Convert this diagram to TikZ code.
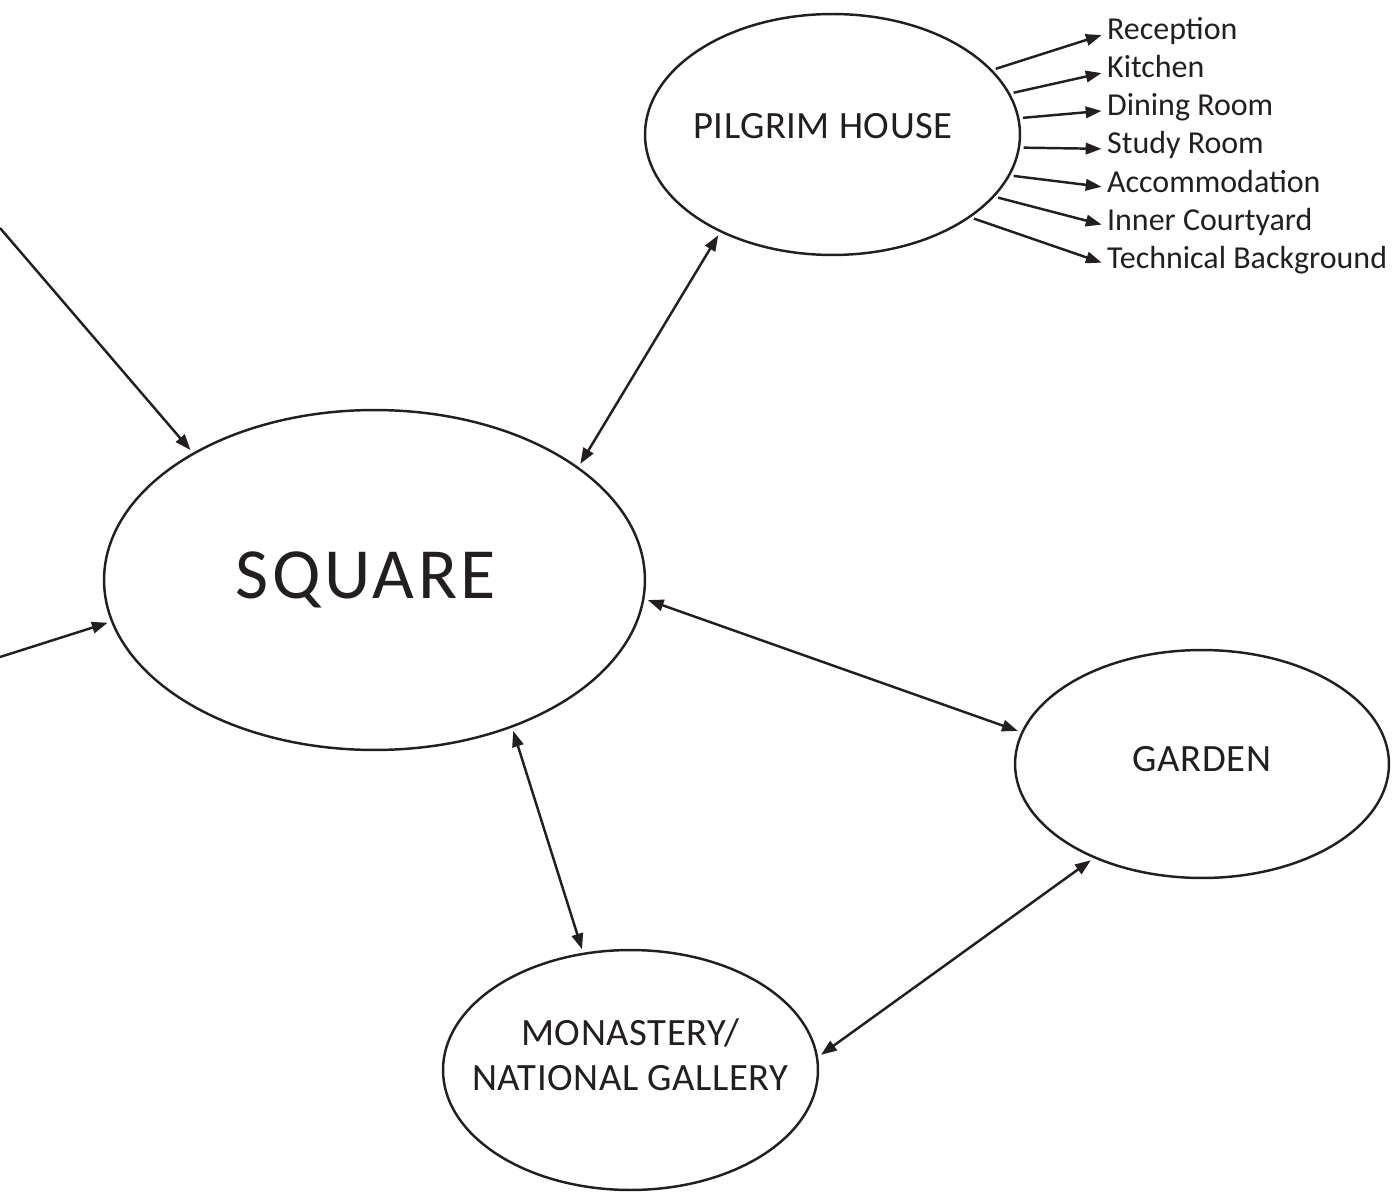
\documentclass[tikz,border=0pt]{standalone}
\usepackage{fontspec}
\setmainfont{Carlito}
\usepackage{tikz}
\usetikzlibrary{arrows.meta,positioning,shapes.geometric}
\definecolor{ink}{HTML}{231F20}

\begin{document}
\begin{tikzpicture}[
  x=0.02cm, y=-0.02cm,
  >={Triangle[length=9pt,width=6.5pt]},
  every node/.style={text=ink},
  place/.style={draw=ink, ellipse, line width=1.4pt, inner sep=0pt},
  placetext/.style={align=center, inner sep=0pt, font=\fontsize{22}{25.5}\selectfont\addfontfeature{LetterSpace=1.5}},
  room/.style={anchor=west, inner sep=1pt, text height=1.6ex, text depth=.4ex, font=\fontsize{18.2}{21}\selectfont},
  link/.style={draw=ink, line width=1.4pt, shorten <=2pt, shorten >=2pt}
]
\useasboundingbox (0,0) rectangle (1399,1192);
\node[place, minimum width=10.82cm, minimum height=6.8cm,
  label={[placetext, xshift=-0.17cm, font=\fontsize{41}{48}\selectfont\addfontfeature{LetterSpace=5}]center:SQUARE}] (sq) at (374.5,580) {};
\node[place, minimum width=7.5cm, minimum height=4.82cm,
  label={[placetext, xshift=-0.19cm, yshift=0.17cm]center:PILGRIM HOUSE}] (ph) at (832.5,134.5) {};
\node[place, minimum width=7.48cm, minimum height=4.56cm,
  label={[placetext, yshift=0.09cm]center:GARDEN}] (gd) at (1202,764) {};
\node[place, minimum width=7.5cm, minimum height=4.8cm,
  label={[placetext, yshift=0.3cm]center:{MONASTERY/\\NATIONAL GALLERY}}] (ms) at (630.5,1070) {};
\coordinate (inA) at (0,228);
\coordinate (inB) at (0,657);
\draw[link,->, shorten <=0pt] (inA) -- (sq.145.8);
\draw[link,->, shorten <=0pt] (inB) -- (sq.189.8);
\foreach \a/\b in {sq.29.3/ph.221.6, sq.356.2/gd.170.8, sq.313.1/ms.112.5, gd.221.7/ms.4}{\draw[link,<->] (\a) -- (\b);}
\foreach \txt/\ang [count=\i] in {Reception/22.6, Kitchen/13.5, Dining Room/5.8, Study Room/356.3, Accommodation/347.7, Inner Courtyard/339.8, Technical Background/329.9}{
  \node[room] (r\i) at (1105,{34+38.3*(\i-1)}) {\txt};
  \draw[link,->] (ph.\ang) -- (r\i.west);
}
\end{tikzpicture}
\end{document}
